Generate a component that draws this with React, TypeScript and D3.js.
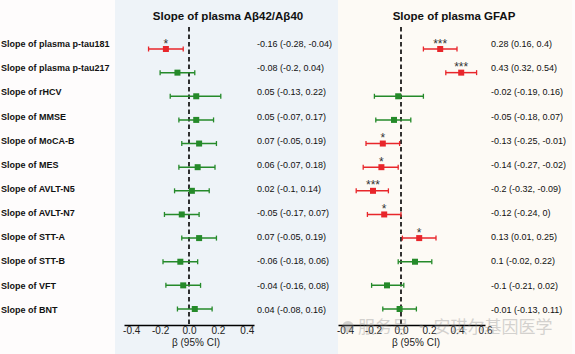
import React, { useEffect, useRef } from "react";
import * as d3 from "d3";

const outcomes = [
  "Slope of plasma p-tau181",
  "Slope of plasma p-tau217",
  "Slope of rHCV",
  "Slope of MMSE",
  "Slope of MoCA-B",
  "Slope of MES",
  "Slope of AVLT-N5",
  "Slope of AVLT-N7",
  "Slope of STT-A",
  "Slope of STT-B",
  "Slope of VFT",
  "Slope of BNT",
];

// plasma Abeta42/Abeta40
const abBeta = [-0.16, -0.08, 0.05, 0.05, 0.07, 0.06, 0.02, -0.05, 0.07, -0.06, -0.04, 0.04];
const abLow = [-0.28, -0.2, -0.13, -0.07, -0.05, -0.07, -0.1, -0.17, -0.05, -0.18, -0.16, -0.08];
const abHigh = [-0.04, 0.04, 0.22, 0.17, 0.19, 0.18, 0.14, 0.07, 0.19, 0.06, 0.08, 0.16];
const abSig = ["*", "", "", "", "", "", "", "", "", "", "", ""];

// plasma GFAP
const gfapBeta = [0.28, 0.43, -0.02, -0.05, -0.13, -0.14, -0.2, -0.12, 0.13, 0.1, -0.1, -0.01];
const gfapLow = [0.16, 0.32, -0.19, -0.18, -0.25, -0.27, -0.32, -0.24, 0.01, -0.02, -0.21, -0.13];
const gfapHigh = [0.4, 0.54, 0.16, 0.07, -0.01, -0.02, -0.09, 0, 0.25, 0.22, 0.02, 0.11];
const gfapSig = ["***", "***", "", "", "*", "*", "***", "*", "*", "", "", ""];

const abTicks = [-0.4, -0.2, 0, 0.2, 0.4];
const gfapTicks = [-0.4, -0.2, 0, 0.2, 0.4, 0.6];

const RED = "#e8262b";
const GREEN = "#258a2a";
const FONT = "'Liberation Sans', Arial, sans-serif";

export default function App() {
  const ref = useRef<SVGSVGElement>(null);

  useEffect(() => {
    const W = 575;
    const H = 354;
    const svg = d3.select(ref.current).attr("width", W).attr("height", H);
    svg.selectAll("*").remove();

    svg.append("rect").attr("width", W).attr("height", H).attr("fill", "#fefcfc");

    const yMark = d3.scalePoint().domain(outcomes).range([49, 309]);
    const yText = d3.scalePoint().domain(outcomes).range([44, 309.5]);
    const axisY = 325;

    // labels on the left
    svg.append("g")
      .selectAll("text")
      .data(outcomes)
      .enter()
      .append("text")
      .attr("x", 1)
      .attr("y", (d) => yText(d)!)
      .attr("dy", "0.35em")
      .attr("font-family", FONT)
      .attr("font-size", 9)
      .attr("font-weight", "bold")
      .attr("fill", "#111")
      .text((d) => d);

    const panel = (
      x0: number,
      x1: number,
      bg: string,
      domain: [number, number],
      range: [number, number],
      ticks: number[],
      title: string,
      titleX: number,
      labelX: number,
      valueX: number,
      beta: number[],
      low: number[],
      high: number[],
      sig: string[]
    ) => {
      const g = svg.append("g");
      g.append("rect")
        .attr("x", x0)
        .attr("y", 0)
        .attr("width", x1 - x0)
        .attr("height", H)
        .attr("fill", bg);

      const x = d3.scaleLinear().domain(domain).range(range);

      g.append("text")
        .attr("x", titleX)
        .attr("y", 16)
        .attr("dy", "0.35em")
        .attr("text-anchor", "middle")
        .attr("font-family", FONT)
        .attr("font-size", 11.5)
        .attr("font-weight", "bold")
        .attr("fill", "#111")
        .text(title);

      // reference line at 0
      g.append("line")
        .attr("x1", x(0))
        .attr("x2", x(0))
        .attr("y1", 27)
        .attr("y2", axisY)
        .attr("stroke", "#000")
        .attr("stroke-width", 1.6)
        .attr("stroke-dasharray", "4.5,3");

      const axis = g.append("g")
        .attr("transform", `translate(0,${axisY})`)
        .call(
          d3.axisBottom(x)
            .tickValues(ticks)
            .tickSize(0)
            .tickSizeOuter(0)
            .tickPadding(2)
            .tickFormat((d) => (+d).toFixed(1))
        );
      axis.select(".domain").attr("stroke", "#000").attr("stroke-width", 1.5);
      axis.selectAll("text")
        .attr("font-family", FONT)
        .attr("font-size", 10)
        .attr("fill", "#222");

      g.append("text")
        .attr("x", labelX)
        .attr("y", 342)
        .attr("dy", "0.35em")
        .attr("text-anchor", "middle")
        .attr("font-family", FONT)
        .attr("font-size", 10)
        .attr("fill", "#222")
        .text("β (95% CI)");

      const rows = outcomes.map((name, i) => ({
        name,
        b: beta[i],
        lo: low[i],
        hi: high[i],
        s: sig[i],
      }));

      const row = g.selectAll("g.row").data(rows).enter().append("g").attr("class", "row");
      const col = (d: any) => (d.s ? RED : GREEN);

      row.append("line")
        .attr("x1", (d) => x(d.lo))
        .attr("x2", (d) => x(d.hi))
        .attr("y1", (d) => yMark(d.name)!)
        .attr("y2", (d) => yMark(d.name)!)
        .attr("stroke", col)
        .attr("stroke-width", 1.5);
      row.append("line")
        .attr("x1", (d) => x(d.lo))
        .attr("x2", (d) => x(d.lo))
        .attr("y1", (d) => yMark(d.name)! - 2.5)
        .attr("y2", (d) => yMark(d.name)! + 2.5)
        .attr("stroke", col)
        .attr("stroke-width", 1.3);
      row.append("line")
        .attr("x1", (d) => x(d.hi))
        .attr("x2", (d) => x(d.hi))
        .attr("y1", (d) => yMark(d.name)! - 2.5)
        .attr("y2", (d) => yMark(d.name)! + 2.5)
        .attr("stroke", col)
        .attr("stroke-width", 1.3);
      row.append("rect")
        .attr("x", (d) => x(d.b) - 3)
        .attr("y", (d) => yMark(d.name)! - 3)
        .attr("width", 6)
        .attr("height", 6)
        .attr("fill", col);
      row.append("text")
        .attr("x", (d) => x(d.b))
        .attr("y", (d) => yMark(d.name)! - 1.5)
        .attr("text-anchor", "middle")
        .attr("font-family", FONT)
        .attr("font-size", 12)
        .attr("fill", "#333")
        .text((d) => d.s);

      row.append("text")
        .attr("x", valueX)
        .attr("y", (d) => yText(d.name)!)
        .attr("dy", "0.35em")
        .attr("font-family", FONT)
        .attr("font-size", 9)
        .attr("fill", "#111")
        .text((d) => `${d.b} (${d.lo}, ${d.hi})`);
    };

    panel(115, 338, "#eef3f8", [-0.45, 0.45], [124, 254], abTicks,
      "Slope of plasma Aβ42/Aβ40", 228, 196, 257, abBeta, abLow, abHigh, abSig);
    panel(338, 572, "#fdfaf5", [-0.45, 0.6], [338, 485], gfapTicks,
      "Slope of plasma GFAP", 454, 416, 491, gfapBeta, gfapLow, gfapHigh, gfapSig);

    // watermark
    const wm = svg.append("g").attr("opacity", 0.35);
    wm.append("circle").attr("cx", 348).attr("cy", 327).attr("r", 6).attr("fill", "#888");
    wm.append("text")
      .attr("x", 358)
      .attr("y", 327)
      .attr("dy", "0.35em")
      .attr("font-family", "'Noto Sans CJK SC', sans-serif")
      .attr("font-size", 17)
      .attr("fill", "#888")
      .text("服务号 · 安琪尔基因医学");
  }, []);

  return (
    <div style={{ position: "absolute", left: 0, top: 0 }}>
      <svg ref={ref}></svg>
    </div>
  );
}
